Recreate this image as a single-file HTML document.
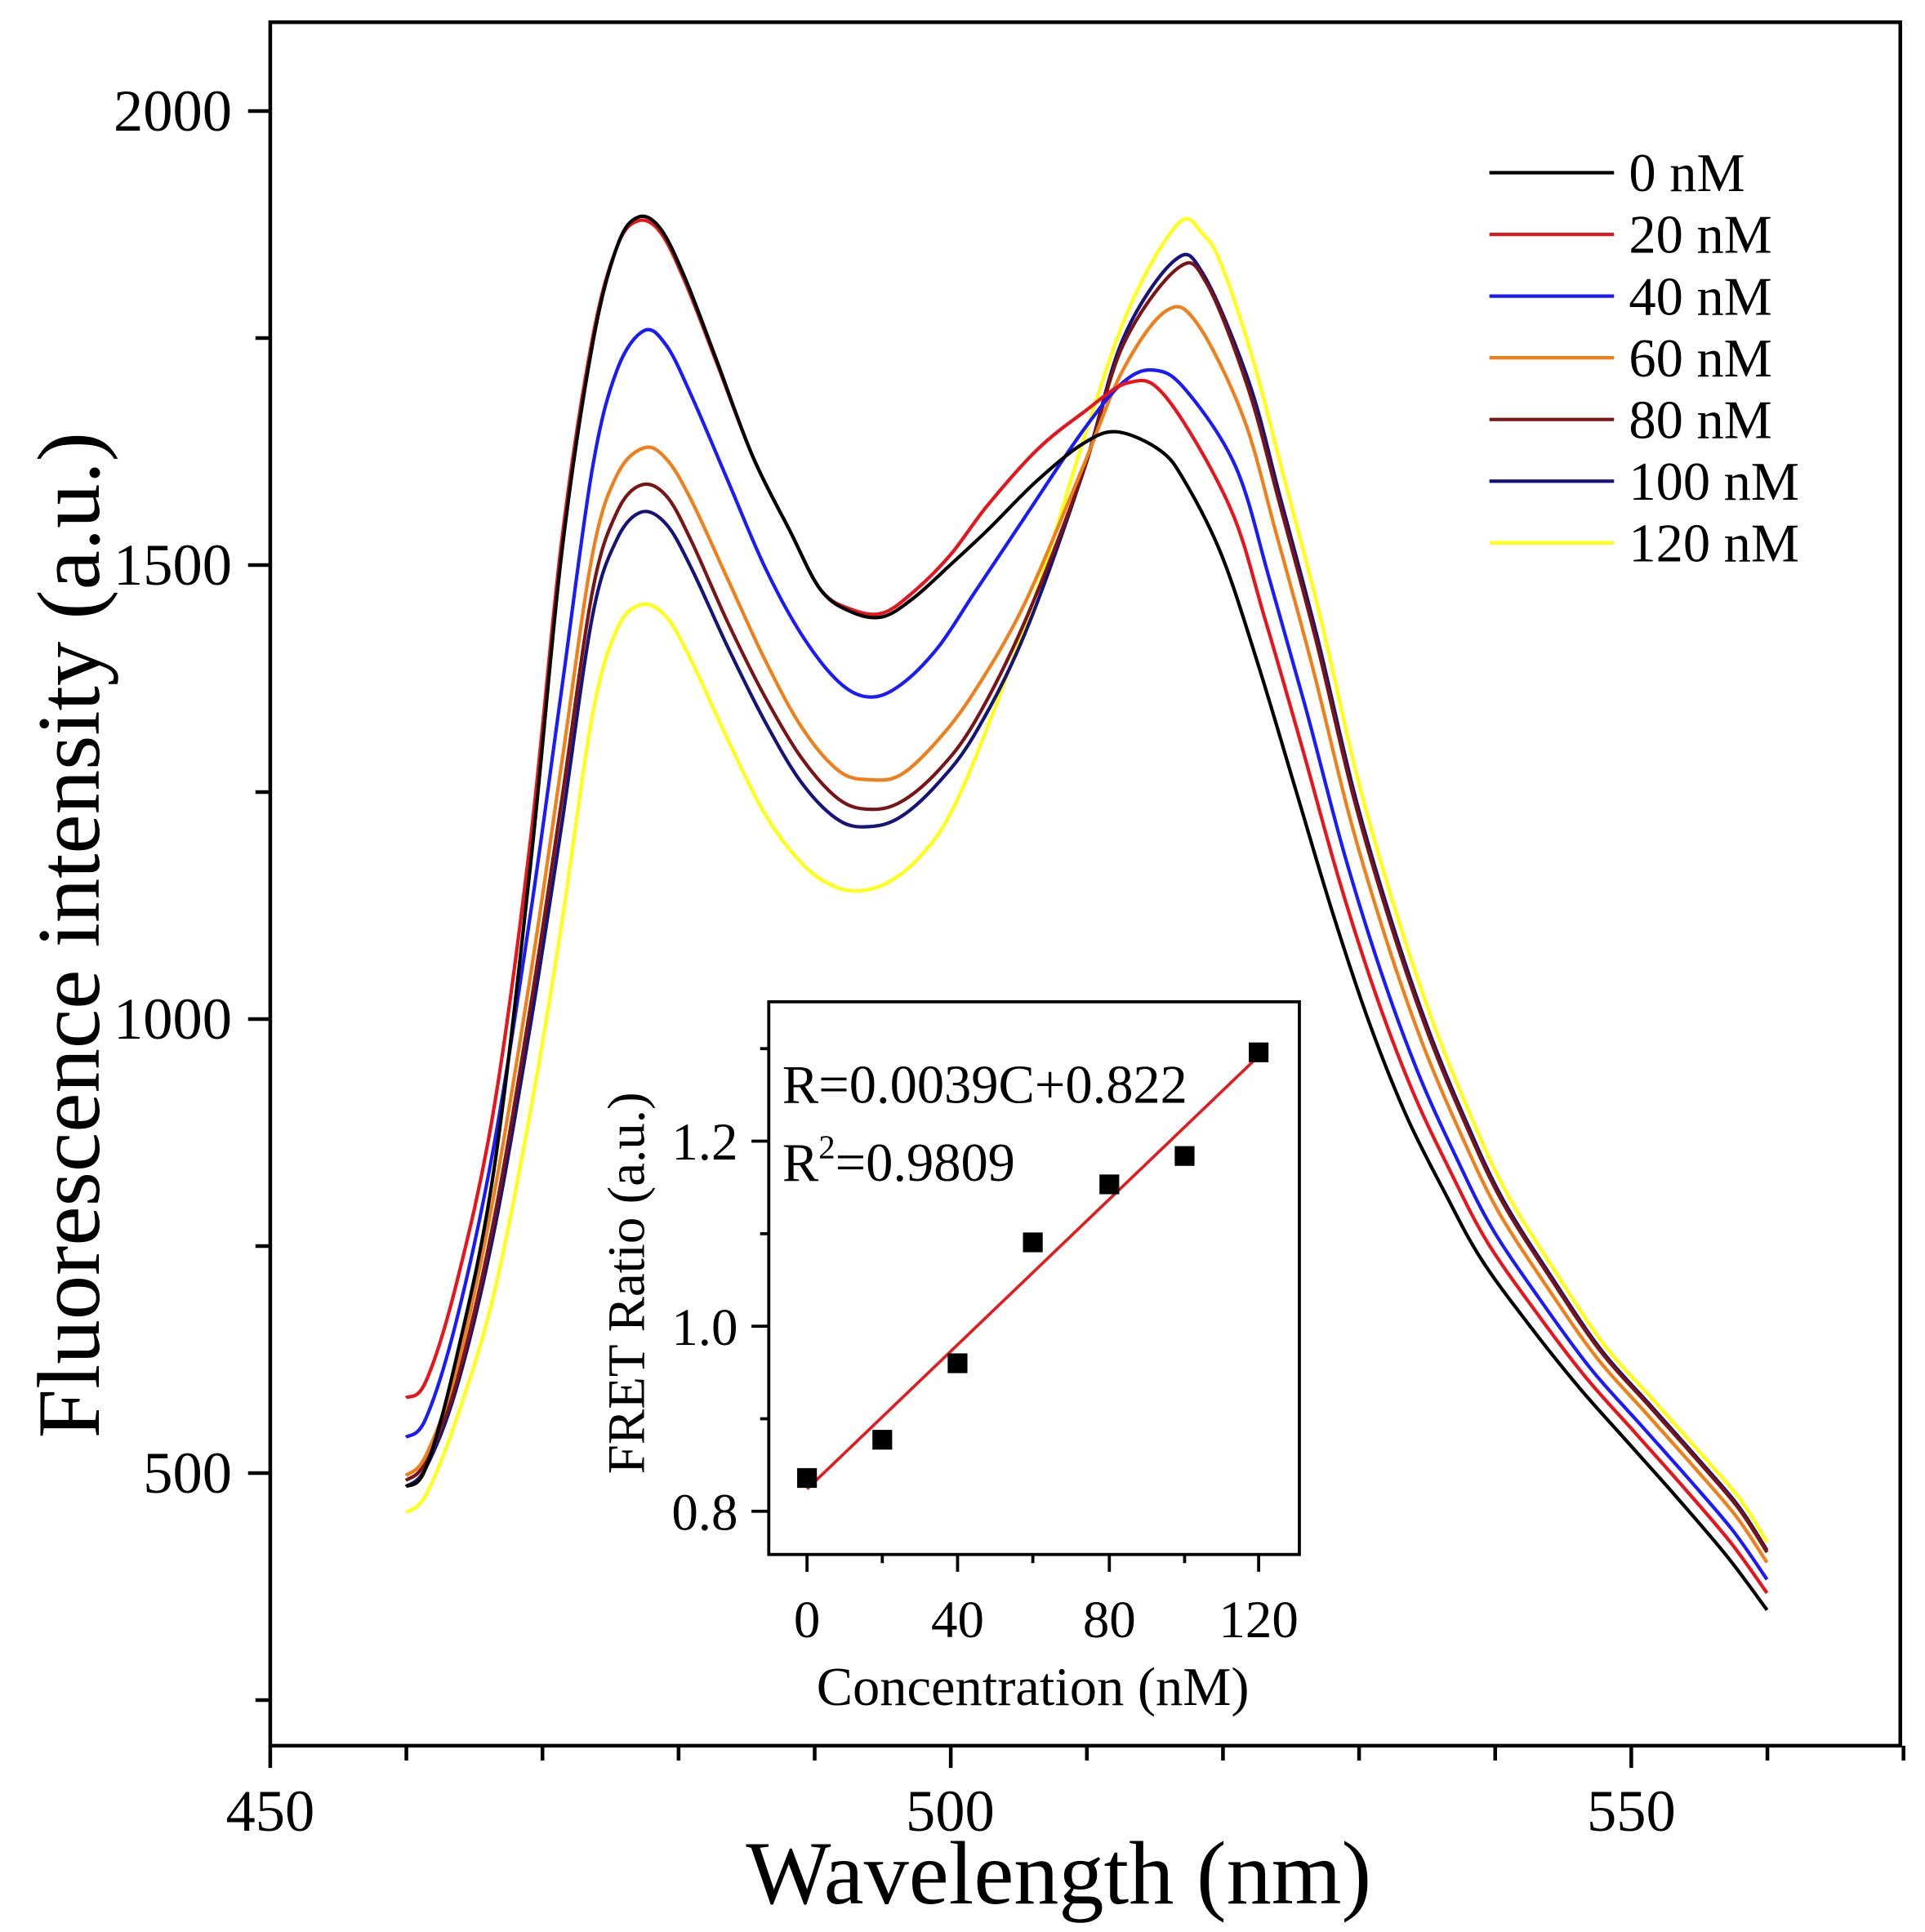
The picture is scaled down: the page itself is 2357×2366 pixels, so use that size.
<!DOCTYPE html>
<html><head><meta charset="utf-8"><style>
html,body{margin:0;padding:0;background:#fff;}
svg{display:block;}
text{font-family:"Liberation Serif",serif;fill:#000;}
</style></head><body>
<svg id="s" width="2357" height="2366" viewBox="0 0 1560 1566" xmlns="http://www.w3.org/2000/svg">
<rect x="0" y="0" width="1560" height="1566" fill="#fff"/>
<g id="curves" fill="none" stroke-width="2.8" stroke-linejoin="round"></g>
<rect x="219" y="18" width="1321" height="1397" fill="none" stroke="#000" stroke-width="3"/>
<g stroke="#000" stroke-width="3" id="ticks"></g>
<g font-size="48" text-anchor="middle">
<text x="219" y="1484">450</text><text x="770" y="1484">500</text><text x="1322" y="1484">550</text>
</g>
<g font-size="48" text-anchor="end">
<text x="188" y="106">2000</text><text x="188" y="474">1500</text><text x="188" y="842">1000</text><text x="188" y="1210">500</text>
</g>
<text x="858" y="1543" font-size="73" text-anchor="middle">Wavelength (nm)</text>
<text transform="translate(80,758) rotate(-90)" font-size="72" text-anchor="middle">Fluorescence intensity (a.u.)</text>
<g stroke-width="2.8" id="leg"></g>
<g font-size="44">
<text x="1320" y="155">0 nM</text><text x="1320" y="205">20 nM</text><text x="1320" y="255">40 nM</text><text x="1320" y="305">60 nM</text><text x="1320" y="355">80 nM</text><text x="1320" y="405">100 nM</text><text x="1320" y="455">120 nM</text>
</g>
<rect x="623" y="812" width="430" height="448" fill="#fff" stroke="#000" stroke-width="2.5"/>
<g stroke="#000" stroke-width="2.5">
<line x1="654" y1="1260" x2="654" y2="1274"/><line x1="776" y1="1260" x2="776" y2="1274"/><line x1="899" y1="1260" x2="899" y2="1274"/><line x1="1020" y1="1260" x2="1020" y2="1274"/>
<line x1="715" y1="1260" x2="715" y2="1267"/><line x1="837" y1="1260" x2="837" y2="1267"/><line x1="960" y1="1260" x2="960" y2="1267"/>
<line x1="609" y1="1225" x2="623" y2="1225"/><line x1="609" y1="1075" x2="623" y2="1075"/><line x1="609" y1="925" x2="623" y2="925"/>
<line x1="616" y1="1150" x2="623" y2="1150"/><line x1="616" y1="1000" x2="623" y2="1000"/><line x1="616" y1="850" x2="623" y2="850"/>
</g>
<g font-size="43" text-anchor="middle">
<text x="654" y="1327">0</text><text x="776" y="1327">40</text><text x="899" y="1327">80</text><text x="1020" y="1327">120</text>
</g>
<g font-size="43" text-anchor="end">
<text x="598" y="1240">0.8</text><text x="598" y="1090">1.0</text><text x="598" y="940">1.2</text>
</g>
<text x="837" y="1382" font-size="44" text-anchor="middle">Concentration (nM)</text>
<text transform="translate(522,1040) rotate(-90)" font-size="43" text-anchor="middle">FRET Ratio (a.u.)</text>
<line x1="654" y1="1207" x2="1020" y2="856" stroke="#e41a1c" stroke-width="2.4"/>
<g fill="#000">
<rect x="646" y="1190" width="16" height="16"/><rect x="707" y="1159" width="16" height="16"/><rect x="768" y="1097" width="16" height="16"/><rect x="829" y="999" width="16" height="16"/><rect x="891" y="952" width="16" height="16"/><rect x="952" y="929" width="16" height="16"/><rect x="1012" y="845" width="16" height="16"/>
</g>
<text x="634" y="894" font-size="44">R=0.0039C+0.822</text>
<text x="634" y="957" font-size="44">R<tspan font-size="27" dy="-18">2</tspan><tspan dy="18">=0.9809</tspan></text>
</svg>
<script>
(function(){
var NS="http://www.w3.org/2000/svg";
var t=document.getElementById('ticks'),h='';
for(var v=450;v<=570;v+=10){var x=219+(v-450)*11.03;var L=(v%50==0)?18:12;h+='<line x1="'+x+'" y1="1415" x2="'+x+'" y2="'+(1415+L)+'"/>';}
for(var u=250;u<=2000;u+=250){var y=90+(2000-u)*0.736;var L2=(u%500==0)?18:12;h+='<line x1="'+(219-L2)+'" y1="'+y+'" x2="219" y2="'+y+'"/>';}
t.innerHTML=h;
var bt=[[940,365],[960,390],[990,450],[1020,540],[1050,640],[1080,740],[1110,830],[1140,905],[1170,965],[1200,1020],[1240,1075],[1280,1125],[1320,1170],[1360,1215],[1400,1262],[1432,1305]];
var yt=[[975,190],[990,215],[1015,290],[1040,385],[1070,500],[1100,630],[1130,735],[1160,825],[1190,900],[1220,965],[1260,1030],[1300,1090],[1340,1135],[1380,1180],[1410,1215],[1432,1250]];
var C=[
['#000000',0,0,[[329,1205],[345,1190],[370,1100],[400,950],[430,700],[455,450],[480,280],[500,200],[517,176],[535,185],[555,225],[580,290],[610,370],[640,430],[665,478],[690,496],[715,500],[740,485],[770,458],[800,430],[840,390],[877,360],[905,350]]],
['#e8141b',0.25,2,[[329,1133],[345,1120],[370,1040],[400,900],[430,680],[455,440],[480,275],[500,200],[517,179],[535,188],[555,228],[580,292],[610,370],[640,430],[665,478],[690,494],[715,497],[740,480],[770,450],[800,410],[840,365],[877,335],[915,310],[945,322]]],
['#1a1aff',0.45,2,[[329,1165],[345,1150],[370,1070],[400,930],[430,740],[455,560],[480,380],[500,300],[522,268],[540,280],[560,320],[590,390],[620,460],[650,515],[680,553],[705,565],[730,555],[760,525],[790,480],[830,420],[877,350],[910,310],[935,300],[960,315]]],
['#f07f1a',0.7,2,[[329,1196],[345,1180],[370,1110],[400,970],[430,790],[455,620],[480,450],[500,385],[522,363],[540,372],[560,405],[590,470],[620,535],[650,590],[680,625],[705,632],[730,628],[760,600],[790,560],[830,490],[877,380],[910,300],[945,252],[970,262]]],
['#7b1414',0.85,2,[[329,1200],[345,1185],[370,1120],[400,990],[430,815],[455,650],[480,480],[500,415],[520,393],[540,402],[560,438],[590,505],[620,565],[650,615],[680,648],[705,656],[730,650],[760,625],[790,585],[830,505],[877,385],[910,280],[955,217],[978,230]]],
['#14147a',0.88,2,[[329,1205],[345,1190],[370,1125],[400,1000],[430,830],[455,670],[480,500],[500,437],[520,415],[540,425],[560,460],[590,525],[620,585],[650,635],[680,665],[705,670],[730,662],[760,635],[790,595],[830,515],[877,385],[910,275],[952,211],[975,222]]],
['#ffff10',1,0,[[329,1226],[345,1212],[370,1150],[400,1050],[430,900],[455,750],[480,580],[500,510],[520,490],[540,500],[560,535],[590,600],[620,660],[650,700],[675,718],[697,722],[720,715],[745,695],[770,660],[800,590],[840,480],[877,360],[915,250],[955,181]]]
];
var g=document.getElementById('curves');
function path(p){var d='M'+p[0][0]+','+p[0][1];for(var i=0;i<p.length-1;i++){var p0=p[i-1]||p[i],p1=p[i],p2=p[i+1],p3=p[i+2]||p2;
d+=' C'+(p1[0]+(p2[0]-p0[0])/6)+','+(p1[1]+(p2[1]-p0[1])/6)+' '+(p2[0]-(p3[0]-p1[0])/6)+','+(p2[1]-(p3[1]-p1[1])/6)+' '+p2[0]+','+p2[1];}return d;}
var order=[6,5,4,3,2,1,0];
order.forEach(function(k){var c=C[k],w=c[1],p=c[3].slice();
for(var i=c[2];i<bt.length;i++){p.push([bt[i][0]+(yt[i][0]-bt[i][0])*w,bt[i][1]+(yt[i][1]-bt[i][1])*w]);}
var e=document.createElementNS(NS,'path');e.setAttribute('d',path(p));e.setAttribute('stroke',c[0]);g.appendChild(e);});
var lg=document.getElementById('leg');
C.forEach(function(c,i){var e=document.createElementNS(NS,'line');var y=140+50*i;e.setAttribute('x1',1207);e.setAttribute('x2',1308);e.setAttribute('y1',y);e.setAttribute('y2',y);e.setAttribute('stroke',c[0]);lg.appendChild(e);});
})();
</script>
</body></html>
